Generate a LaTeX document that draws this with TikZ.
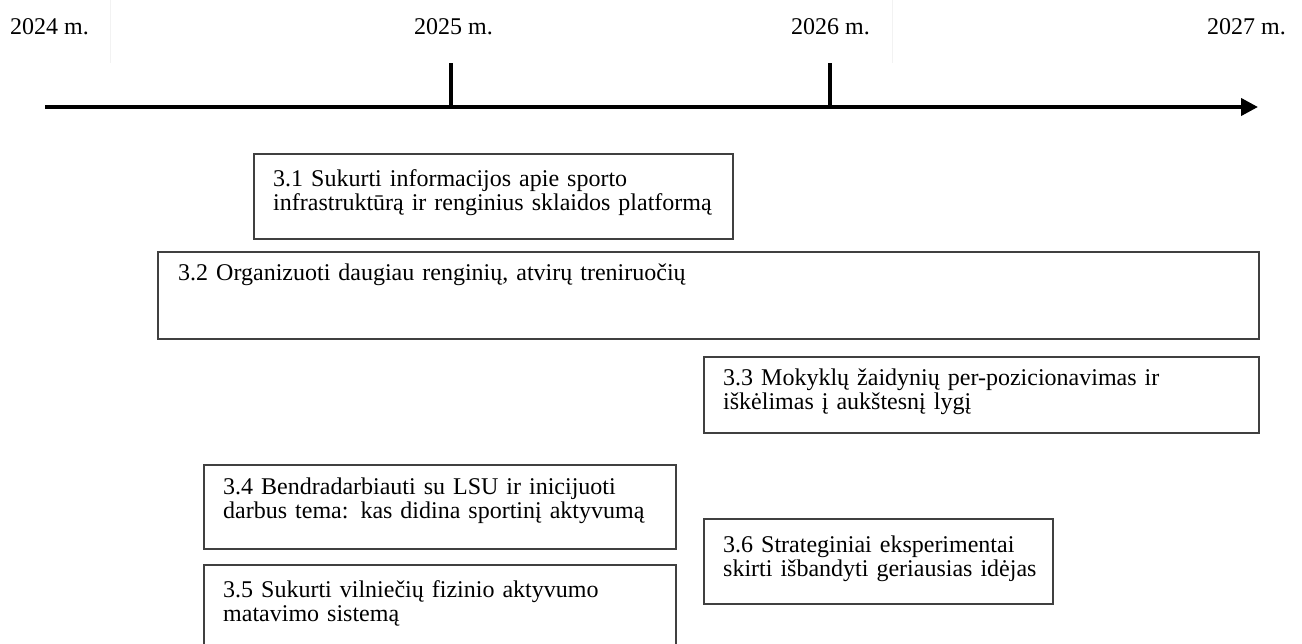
\documentclass[tikz,border=0pt]{standalone}
\usepackage{fontspec}
\setmainfont{Liberation Serif}
\usetikzlibrary{arrows.meta}
\begin{document}
\begin{tikzpicture}[x=1pt,y=-1pt,
  boxstyle/.style={draw=black!75,line width=1.6pt,rectangle,anchor=north west,inner sep=0pt},
  txt/.style={anchor=base west,inner sep=0pt,text width=560pt,align=left,font=\fontsize{24}{24}\selectfont},
  yr/.style={anchor=base west,inner sep=0pt,font=\fontsize{24}{24}\selectfont},
  axisline/.style={line width=4pt,-{Triangle[length=17pt,width=17pt]}},
  tick/.style={line width=4pt},
  faint/.style={draw=black!5,line width=0.8pt}]
\useasboundingbox (0,0) rectangle (1302,643);
\fill[white] (0,0) rectangle (1302,643);
% faint separators
\coordinate (f1a) at (110,0); \coordinate (f1b) at (110,63);
\coordinate (f2a) at (892,0); \coordinate (f2b) at (892,63);
\draw[faint] (f1a) -- (f1b);
\draw[faint] (f2a) -- (f2b);
% year labels
\node[yr] (y24) at (10,34) {2024 m.};
\node[yr] (y25) at (414,34) {2025 m.};
\node[yr] (y26) at (791,34) {2026 m.};
\node[yr] (y27) at (1207,34) {2027 m.};
% axis
\coordinate (ax0) at (45,107);
\coordinate (ax1) at (1258,107);
\draw[axisline] (ax0) -- (ax1);
\coordinate (t25a) at (451,63); \coordinate (t25b) at (451,107);
\coordinate (t26a) at (830,63); \coordinate (t26b) at (830,107);
\draw[tick] (t25a) -- (t25b);
\draw[tick] (t26a) -- (t26b);
% boxes
\node[boxstyle,minimum width=479pt,minimum height=85pt] (b1) at (253,153) {};
\node[boxstyle,minimum width=1101pt,minimum height=87pt] (b2) at (157,251) {};
\node[boxstyle,minimum width=555pt,minimum height=76pt] (b3) at (703,356) {};
\node[boxstyle,minimum width=472pt,minimum height=84pt] (b4) at (203,464) {};
\node[boxstyle,minimum width=472pt,minimum height=100pt] (b5) at (203,564) {};
\node[boxstyle,minimum width=349pt,minimum height=85pt] (b6) at (703,518) {};
% texts
\node[txt] (t1) at ([shift={(20,33)}]b1.north west) {3.1 Sukurti informacijos apie sporto\\infrastruktūrą ir renginius sklaidos platformą};
\node[txt] (t2) at ([shift={(21,29)}]b2.north west) {3.2 Organizuoti daugiau renginių, atvirų treniruočių};
\node[txt] (t3) at ([shift={(20,29)}]b3.north west) {3.3 Mokyklų žaidynių per-pozicionavimas ir\\iškėlimas į aukštesnį lygį};
\node[txt] (t4) at ([shift={(20,30)}]b4.north west) {3.4 Bendradarbiauti su LSU ir inicijuoti\\darbus tema: kas didina sportinį aktyvumą};
\node[txt] (t5) at ([shift={(20,33)}]b5.north west) {3.5 Sukurti vilniečių fizinio aktyvumo\\matavimo sistemą};
\node[txt] (t6) at ([shift={(20,34)}]b6.north west) {3.6 Strateginiai eksperimentai\\skirti išbandyti geriausias idėjas};
\end{tikzpicture}
\end{document}
